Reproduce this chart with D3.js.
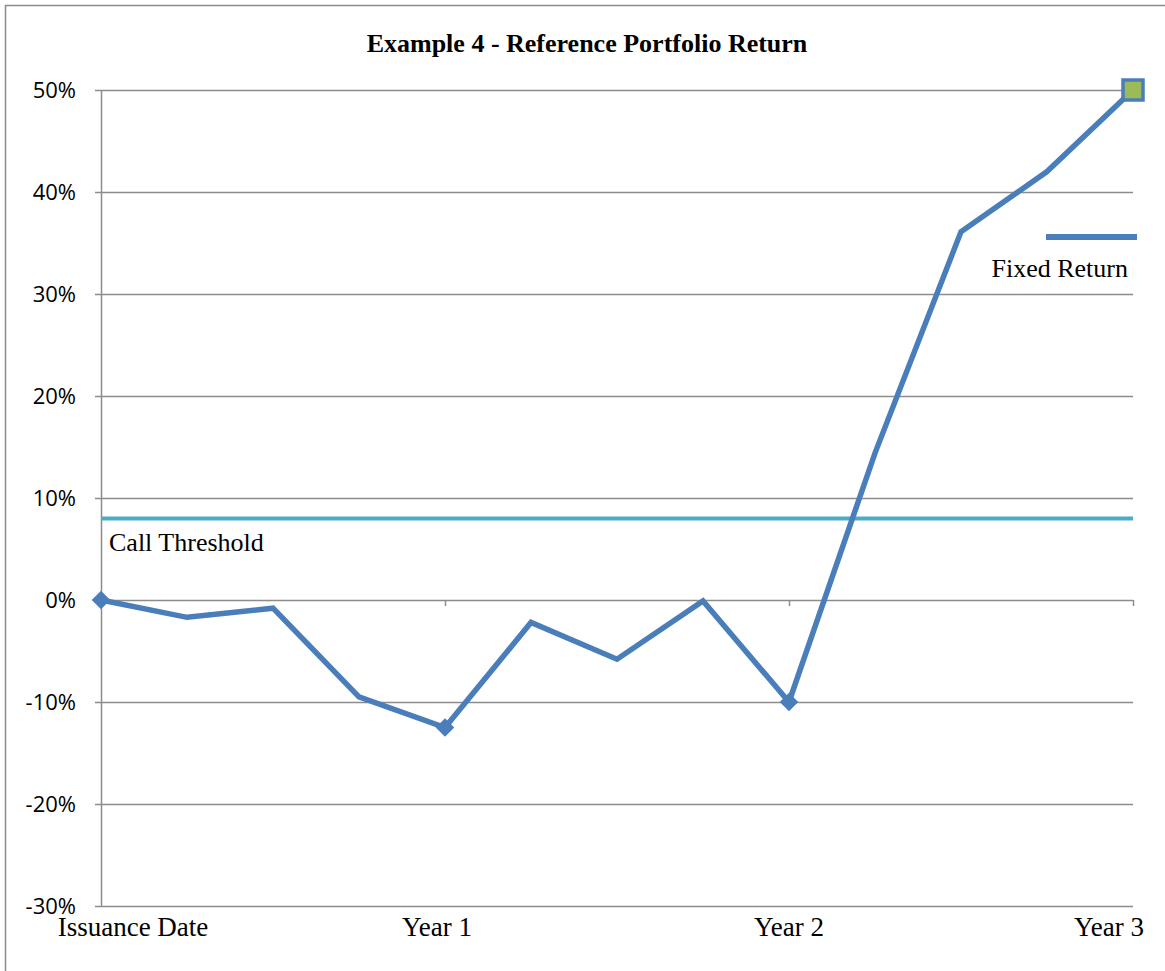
<!DOCTYPE html>
<html>
<head>
<meta charset="utf-8">
<script src="https://cdn.jsdelivr.net/npm/d3@7"></script>
<style>
  body { margin: 0; background: #fff; }
  svg { display: block; }
</style>
</head>
<body>
<svg id="chart" width="1165" height="971"></svg>
<script>
const periods = d3.range(13);
const xLabels = ["Issuance Date", "", "", "", "Year 1", "", "", "", "Year 2", "", "", "", "Year 3"];
const portfolioReturn = [0, -0.017, -0.008, -0.095, -0.125, -0.022, -0.058, -0.001, -0.10, 0.144, 0.361, 0.42, 0.50];
const diamondAt = [0, 4, 8];
const callThreshold = 0.08;
const yTicks = [-0.3, -0.2, -0.1, 0, 0.1, 0.2, 0.3, 0.4, 0.5];

const width = 1165, height = 971;
const margin = { top: 90, right: 32, bottom: 65, left: 101 };

const blue = "#4a7ebb", teal = "#4bacc6", grid = "#8c8c8c";
const serif = "'Liberation Serif', 'Times New Roman', serif";

const svg = d3.select("#chart");

// chart frame
svg.append("rect")
  .attr("x", 5.5).attr("y", 5.5)
  .attr("width", width).attr("height", height)
  .attr("fill", "none").attr("stroke", grid).attr("stroke-width", 1.5);

const x = d3.scalePoint()
  .domain(periods)
  .range([margin.left, width - margin.right]);

const y = d3.scaleLinear()
  .domain([-0.3, 0.5])
  .range([height - margin.bottom, margin.top]);

const pct = d => Math.round(d * 100) + "%";

// y axis with gridlines
const yAxis = svg.append("g")
  .attr("transform", `translate(${margin.left},0)`)
  .call(d3.axisLeft(y)
    .tickValues(yTicks)
    .tickFormat(pct)
    .tickSizeInner(-(width - margin.right - margin.left))
    .tickSizeOuter(0)
    .tickPadding(25));

yAxis.select(".domain").attr("stroke", grid).attr("stroke-width", 1.5);
yAxis.selectAll(".tick line").attr("stroke", grid).attr("stroke-width", 1.5);
yAxis.selectAll(".tick")
  .append("line")
  .attr("x1", -6).attr("x2", 0)
  .attr("stroke", grid).attr("stroke-width", 1.5);
yAxis.selectAll(".tick text")
  .attr("font-family", "'Open Sans', sans-serif")
  .attr("font-size", 22)
  .attr("fill", "#000");

// category axis crossing at 0%
const xAxis = svg.append("g")
  .attr("transform", `translate(0,${y(0)})`)
  .call(d3.axisBottom(x)
    .tickValues(periods.filter(i => xLabels[i] !== ""))
    .tickFormat("")
    .tickSizeInner(6)
    .tickSizeOuter(0));
xAxis.select(".domain").remove();
xAxis.selectAll(".tick line").attr("stroke", grid).attr("stroke-width", 1.5);

// category labels at bottom
const labelShift = { 0: 32, 4: -8, 12: -24 };
svg.append("g")
  .selectAll("text")
  .data(periods.filter(i => xLabels[i] !== ""))
  .join("text")
  .attr("x", i => x(i) + (labelShift[i] || 0))
  .attr("y", height - margin.bottom + 30)
  .attr("text-anchor", "middle")
  .attr("font-family", serif)
  .attr("font-size", 27)
  .text(i => xLabels[i]);

// call threshold
svg.append("line")
  .attr("x1", x(0)).attr("x2", x(12))
  .attr("y1", y(callThreshold)).attr("y2", y(callThreshold))
  .attr("stroke", teal).attr("stroke-width", 4);

svg.append("text")
  .attr("x", x(0) + 8)
  .attr("y", y(callThreshold) + 33)
  .attr("font-family", serif)
  .attr("font-size", 26)
  .text("Call Threshold");

// portfolio line
const line = d3.line()
  .x((d, i) => x(i))
  .y(d => y(d));

svg.append("path")
  .datum(portfolioReturn)
  .attr("fill", "none")
  .attr("stroke", blue)
  .attr("stroke-width", 5.5)
  .attr("stroke-linejoin", "miter")
  .attr("d", line);

svg.append("g")
  .selectAll("path")
  .data(diamondAt)
  .join("path")
  .attr("transform", i => `translate(${x(i)},${y(portfolioReturn[i])})`)
  .attr("d", d3.symbol(d3.symbolDiamond2, 220))
  .attr("fill", blue);

// final point
const last = portfolioReturn.length - 1;
svg.append("rect")
  .attr("x", x(last) - 10).attr("y", y(portfolioReturn[last]) - 10)
  .attr("width", 20).attr("height", 20)
  .attr("fill", "#9bbb59")
  .attr("stroke", blue).attr("stroke-width", 3.5);

// legend
svg.append("line")
  .attr("x1", 1046).attr("x2", 1137)
  .attr("y1", 237).attr("y2", 237)
  .attr("stroke", blue).attr("stroke-width", 6);

svg.append("text")
  .attr("x", 1128)
  .attr("y", 277)
  .attr("text-anchor", "end")
  .attr("font-family", serif)
  .attr("font-size", 26)
  .text("Fixed Return");

// title
svg.append("text")
  .attr("x", 587)
  .attr("y", 52)
  .attr("text-anchor", "middle")
  .attr("font-family", serif)
  .attr("font-weight", "bold")
  .attr("font-size", 26)
  .text("Example 4 - Reference Portfolio Return");
</script>
</body>
</html>
